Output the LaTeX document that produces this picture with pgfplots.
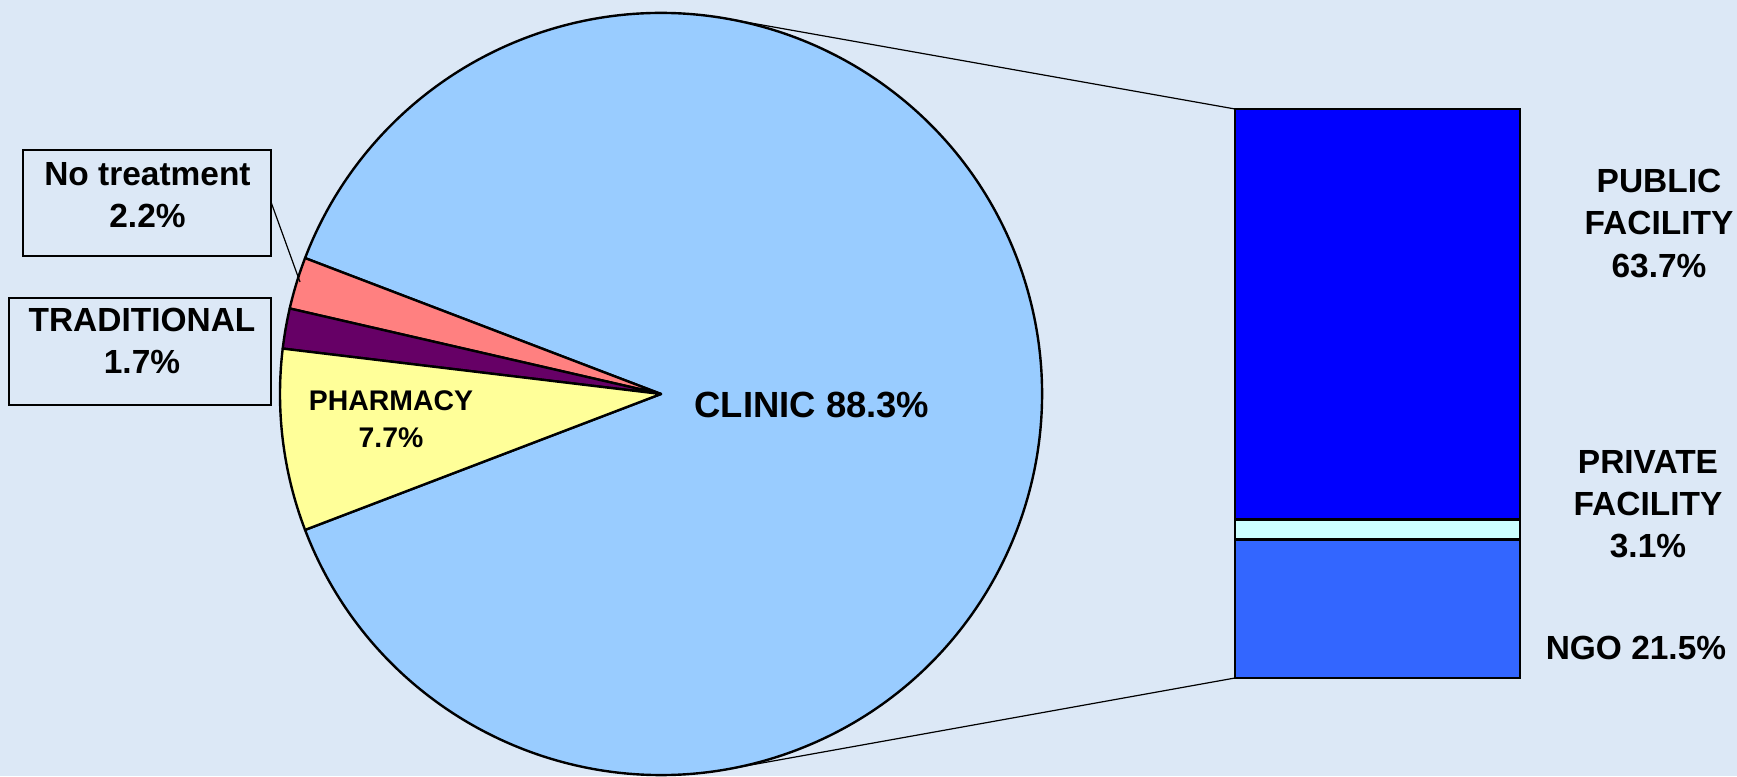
\documentclass[border=0pt]{standalone}
\usepackage{pgfplots}
\pgfplotsset{compat=1.18}
\usepackage{fontspec}
\setmainfont{Liberation Sans}
\definecolor{bgc}{HTML}{DCE8F6}
\definecolor{clinic}{HTML}{99CCFF}
\definecolor{pharm}{HTML}{FFFF99}
\definecolor{trad}{HTML}{660066}
\definecolor{notreat}{HTML}{FF8080}
\definecolor{public}{HTML}{0000FF}
\definecolor{private}{HTML}{CCFFFF}
\definecolor{ngo}{HTML}{3366FF}
\begin{document}
\begin{tikzpicture}
% pie data (percent)
\def\vNT{2.2}\def\vTR{1.7}\def\vPH{7.7}\def\vCL{88.3}
\pgfmathsetmacro\tot{\vNT+\vTR+\vPH+\vCL}
\pgfmathsetmacro\kk{360/\tot}
\pgfmathsetmacro\aA{180-(\vNT+\vTR+\vPH)*\kk/2}
\pgfmathsetmacro\aB{\aA+\vNT*\kk}
\pgfmathsetmacro\aC{\aB+\vTR*\kk}
\pgfmathsetmacro\aD{\aC+\vPH*\kk}
\pgfmathsetmacro\aE{\aA+360}
\def\R{95.25mm}
\begin{axis}[
  scale only axis, width=434.25mm, height=194mm,
  xmin=0, xmax=1737, ymin=0, ymax=776,
  hide axis, clip=false,
]
\fill[bgc] (axis cs:0,0) rectangle (axis cs:1737,776);
% connector lines
\draw[line width=0.3mm] (axis cs:728.5,757) -- (axis cs:1235,667);
\draw[line width=0.3mm] (axis cs:725.8,6.5) -- (axis cs:1235,98);
% pie wedges
\filldraw[fill=clinic, draw=black, line width=0.6mm, line join=round]
  (axis cs:661,382) -- ++(\aD:\R) arc[start angle=\aD, end angle=\aE, radius=\R] -- cycle;
\filldraw[fill=notreat, draw=black, line width=0.6mm, line join=round]
  (axis cs:661,382) -- ++(\aA:\R) arc[start angle=\aA, end angle=\aB, radius=\R] -- cycle;
\filldraw[fill=trad, draw=black, line width=0.6mm, line join=round]
  (axis cs:661,382) -- ++(\aB:\R) arc[start angle=\aB, end angle=\aC, radius=\R] -- cycle;
\filldraw[fill=pharm, draw=black, line width=0.6mm, line join=round]
  (axis cs:661,382) -- ++(\aC:\R) arc[start angle=\aC, end angle=\aD, radius=\R] -- cycle;
% label boxes and leader
\draw[line width=0.4mm] (axis cs:23,520) rectangle (axis cs:271,626);
\draw[line width=0.4mm] (axis cs:9,371) rectangle (axis cs:271,478);
\draw[line width=0.3mm] (axis cs:271,574) -- (axis cs:300,494);
% labels
\node[inner sep=0, align=center, font=\fontsize{23.8}{29.9}\selectfont\bfseries] at (axis cs:147.5,580.5) {No treatment\\2.2\%};
\node[inner sep=0, align=center, font=\fontsize{23.8}{29.9}\selectfont\bfseries] at (axis cs:142,435) {TRADITIONAL\\1.7\%};
\node[inner sep=0, align=center, font=\fontsize{20.2}{26.5}\selectfont\bfseries] at (axis cs:391,357) {PHARMACY\\7.7\%};
\node[inner sep=0, align=center, font=\fontsize{25.9}{31}\selectfont\bfseries] at (axis cs:812,371) {CLINIC 88.3\%};
\node[inner sep=0, align=center, font=\fontsize{23.8}{29.9}\selectfont\bfseries] at (axis cs:1659,552.5) {PUBLIC\\FACILITY\\63.7\%};
\node[inner sep=0, align=center, font=\fontsize{23.8}{29.9}\selectfont\bfseries] at (axis cs:1648,272) {PRIVATE\\FACILITY\\3.1\%};
\node[inner sep=0, align=center, font=\fontsize{23.8}{29.9}\selectfont\bfseries] at (axis cs:1636,128) {NGO 21.5\%};
\end{axis}
\begin{axis}[
  at={(308.75mm,24.5mm)}, anchor=south west,
  scale only axis, width=71.25mm, height=142.25mm,
  xmin=-0.5, xmax=0.5, ymin=0, ymax=88.3,
  ybar stacked, bar width=71.25mm,
  hide axis, clip=false,
]
\addplot[fill=ngo, draw=black, line width=0.6mm] coordinates {(0,21.5)};
\addplot[fill=private, draw=black, line width=0.6mm] coordinates {(0,3.1)};
\addplot[fill=public, draw=black, line width=0.6mm] coordinates {(0,63.7)};
\end{axis}
\pgfresetboundingbox
\path (0,0) rectangle (434.25mm,194mm);
\end{tikzpicture}
\end{document}
